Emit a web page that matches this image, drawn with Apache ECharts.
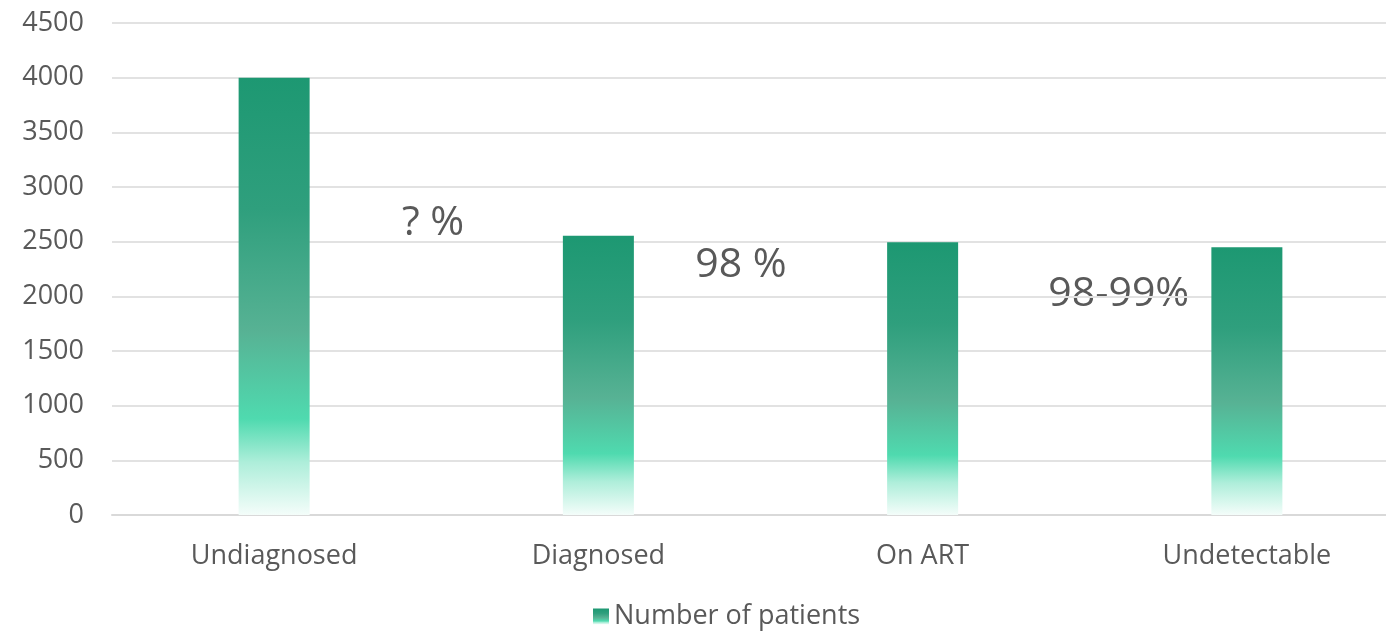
<!DOCTYPE html>
<html>
<head>
<meta charset="utf-8">
<script src="https://cdn.jsdelivr.net/npm/echarts@6/dist/echarts.min.js"></script>
<style>
html,body{margin:0;padding:0;background:#fff;}
#main{width:1386px;height:635px;}
</style>
</head>
<body>
<div id="main"></div>
<script>
var categories = ['Undiagnosed', 'Diagnosed', 'On ART', 'Undetectable'];
var patients = [4000, 2555, 2495, 2450];
var seriesName = 'Number of patients';
var yTicks = [0, 500, 1000, 1500, 2000, 2500, 3000, 3500, 4000, 4500];
var annotations = ['? %', '98 %', '98-99%'];

var FONT = 'Open Sans';
var TXT = '#595959';

var grad = new echarts.graphic.LinearGradient(0, 0, 0, 1, [
  {offset: 0, color: '#1d9872'},
  {offset: 0.3, color: '#2f9f7d'},
  {offset: 0.58, color: '#57b294'},
  {offset: 0.78, color: '#4fdaaf'},
  {offset: 0.88, color: '#aeeeda'},
  {offset: 1, color: '#f4fdfa'}
]);

var chart = echarts.init(document.getElementById('main'));
chart.setOption({
  animation: false,
  grid: {left: 112, right: -23, top: 23, bottom: 120, containLabel: false, outerBoundsMode: 'none'},
  legend: {
    data: [{name: seriesName, icon: 'rect'}],
    bottom: 0,
    left: 588,
    itemWidth: 16,
    itemHeight: 16,
    itemGap: 8,
    textStyle: {fontFamily: FONT, fontSize: 27, color: TXT}
  },
  xAxis: {
    type: 'category',
    data: categories,
    axisTick: {show: false},
    axisLine: {lineStyle: {color: '#d9d9d9', width: 2}},
    axisLabel: {fontFamily: FONT, fontSize: 27, color: TXT, margin: 28}
  },
  yAxis: {
    type: 'value',
    min: yTicks[0],
    max: yTicks[yTicks.length - 1],
    interval: 500,
    axisLine: {show: false},
    axisTick: {show: false},
    splitLine: {lineStyle: {color: '#e2e2e2', width: 2}},
    axisLabel: {fontFamily: FONT, fontSize: 27, color: TXT, margin: 28,
      formatter: function (v) { return String(v); }}
  },
  series: [{
    name: seriesName,
    type: 'bar',
    data: patients,
    barWidth: 71,
    itemStyle: {color: grad}
  }],
  graphic: []
});

// annotations placed between bars, using the chart's own scales
function placeAnnotations() {
  var spots = [
    {i: 0, f: 0.49, v: 2670},
    {i: 1, f: 0.44, v: 2280},
    {i: 2, f: 0.605, v: 2020}
  ];
  var g = spots.map(function (s, k) {
    var x0 = chart.convertToPixel({xAxisIndex: 0}, categories[s.i]);
    var x1 = chart.convertToPixel({xAxisIndex: 0}, categories[s.i + 1]);
    var y = chart.convertToPixel({yAxisIndex: 0}, s.v);
    return {
      type: 'text',
      x: x0 + s.f * (x1 - x0), y: y,
      style: {
        text: annotations[k],
        font: '41px "' + FONT + '"',
        fill: TXT,
        textAlign: 'center',
        textVerticalAlign: 'middle'
      }
    };
  });
  chart.setOption({graphic: g});
}
placeAnnotations();
</script>
</body>
</html>
